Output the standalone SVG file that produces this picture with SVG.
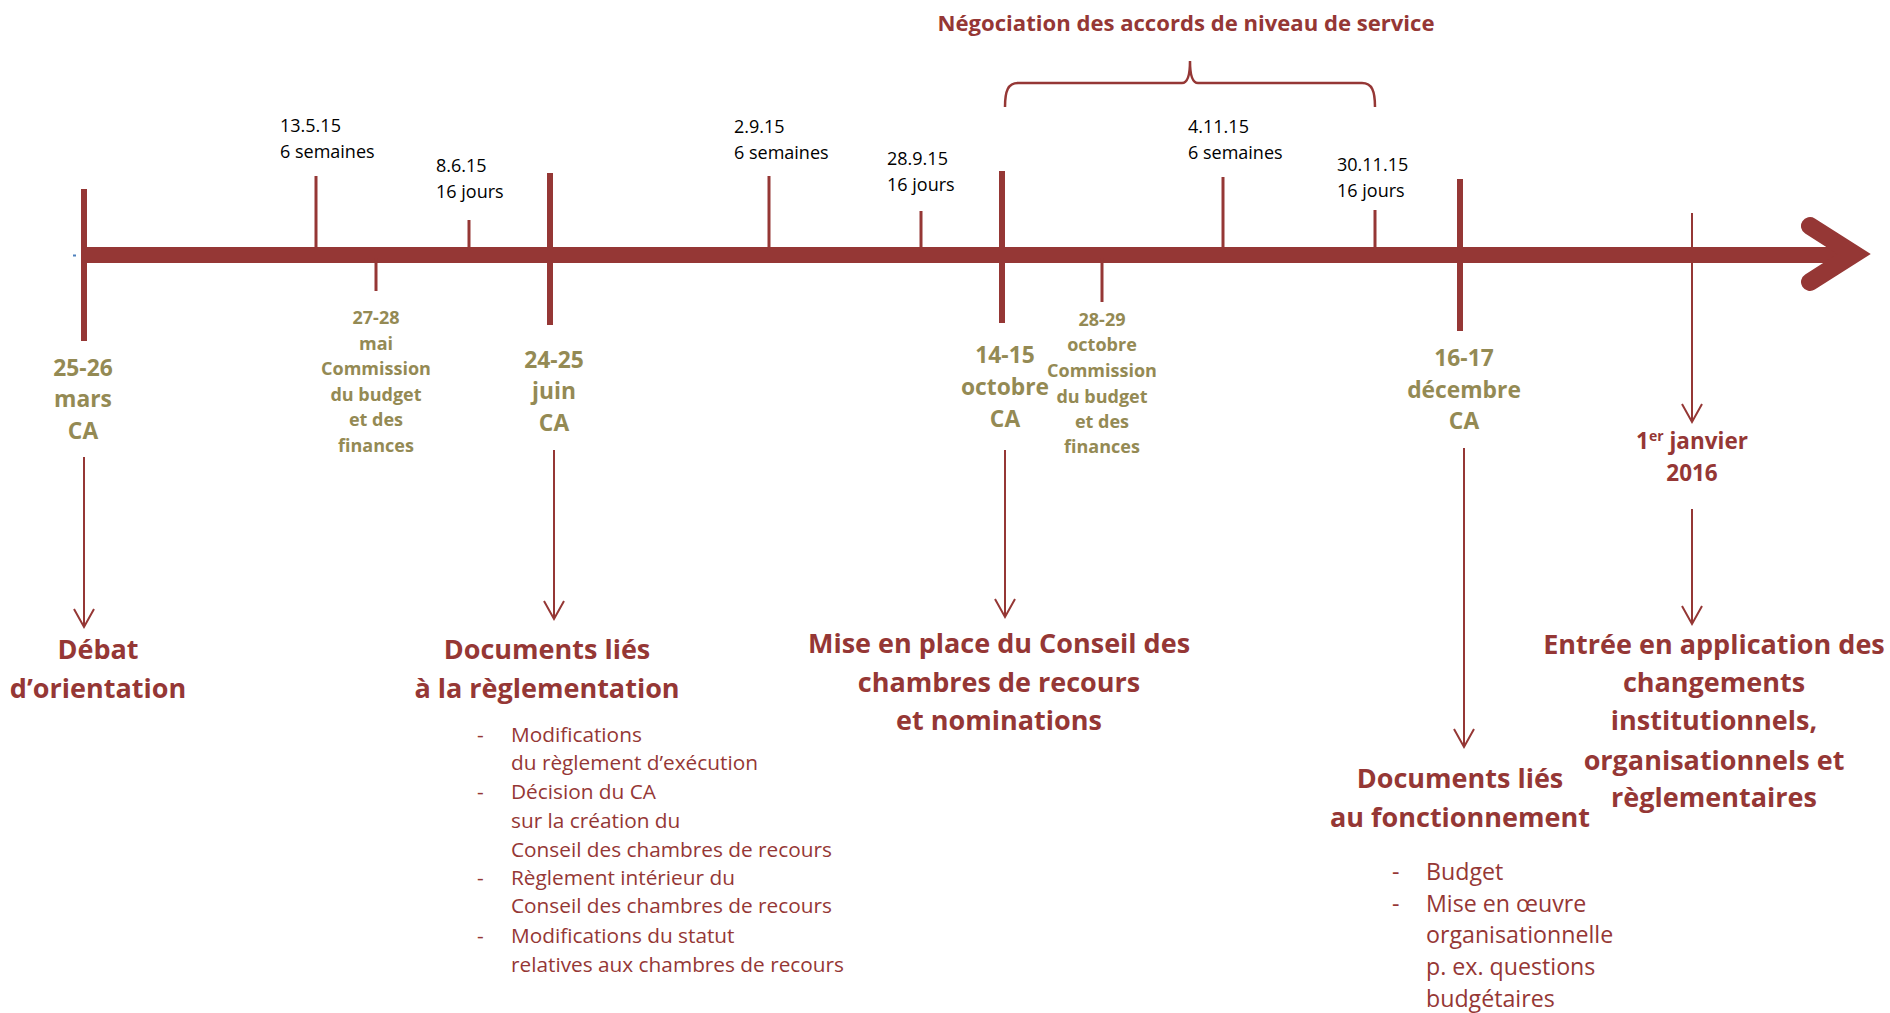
<svg xmlns="http://www.w3.org/2000/svg" width="1890" height="1013" viewBox="0 0 1890 1013">
<style>
  .axis{stroke:#953735;fill:none}
  .tk{stroke:#953735;stroke-width:6}
  .tn{stroke:#953735;stroke-width:3}
  .con{stroke:#953735;stroke-width:2;fill:none}
  .lbl{font-family:"Open Sans","Liberation Sans",sans-serif;font-size:18px;fill:#000}
  .dt{font-family:"Open Sans","Liberation Sans",sans-serif;font-weight:bold;font-size:22.8px;fill:#948a54;text-anchor:middle}
  .cm{font-family:"Open Sans","Liberation Sans",sans-serif;font-weight:bold;font-size:18px;fill:#948a54;text-anchor:middle}
  .hd{font-family:"Open Sans","Liberation Sans",sans-serif;font-weight:bold;font-size:27px;fill:#953735;text-anchor:middle}
  .jan{font-family:"Open Sans","Liberation Sans",sans-serif;font-weight:bold;font-size:22.5px;fill:#953735;text-anchor:middle}
  .ttl{font-family:"Open Sans","Liberation Sans",sans-serif;font-weight:bold;font-size:22.1px;fill:#953735;text-anchor:middle}
  .bl{font-family:"Open Sans","Liberation Sans",sans-serif;font-size:20.8px;fill:#953735}
  .br{font-family:"Open Sans","Liberation Sans",sans-serif;font-size:23.2px;fill:#953735}
</style>
<defs>
  <marker id="v" viewBox="-20 -12 24 24" refX="0" refY="0" markerWidth="24" markerHeight="24" markerUnits="userSpaceOnUse" orient="auto" overflow="visible">
    <path d="M-18,-10 L0,0 L-18,10" fill="none" stroke="#953735" stroke-width="2"/>
  </marker>
</defs>
<rect width="1890" height="1013" fill="#fff"/>

<g id="timeline">
  <line class="axis" x1="84" y1="255" x2="1856" y2="255" stroke-width="16"/>
  <polyline class="axis" points="1810,226 1854,254 1810,282" stroke-width="18" stroke-linecap="round" stroke-linejoin="miter"/>
  <line x1="73" y1="255.5" x2="84" y2="255.5" stroke="#4f81bd" stroke-width="2" stroke-dasharray="3,5"/>
</g>

<g id="ticks">
  <line class="tk" x1="84" y1="189" x2="84" y2="341"/>
  <line class="tn" x1="316" y1="176" x2="316" y2="250"/>
  <line class="tn" x1="376" y1="258" x2="376" y2="291"/>
  <line class="tn" x1="469" y1="220" x2="469" y2="250"/>
  <line class="tk" x1="550" y1="173" x2="550" y2="325"/>
  <line class="tn" x1="769" y1="176" x2="769" y2="250"/>
  <line class="tn" x1="921" y1="211" x2="921" y2="250"/>
  <line class="tk" x1="1002" y1="171" x2="1002" y2="323"/>
  <line class="tn" x1="1102" y1="258" x2="1102" y2="302"/>
  <line class="tn" x1="1223" y1="177" x2="1223" y2="250"/>
  <line class="tn" x1="1375" y1="210" x2="1375" y2="250"/>
  <line class="tk" x1="1460" y1="179" x2="1460" y2="331"/>
</g>

<g id="negociation">
  <path d="M1005,107 C1005,91 1008,83 1018,83 L1182,83 C1188,83 1190,75 1190,61 C1190,75 1192,83 1198,83 L1362,83 C1372,83 1375,91 1375,107" fill="none" stroke="#953735" stroke-width="2.5"/>
  <text class="ttl" x="1186" y="31">Négociation des accords de niveau de service</text>
</g>

<g id="top-labels">
  <text class="lbl" x="280" y="132">13.5.15<tspan x="280" y="158">6 semaines</tspan></text>
  <text class="lbl" x="436" y="172">8.6.15<tspan x="436" y="198">16 jours</tspan></text>
  <text class="lbl" x="734" y="133">2.9.15<tspan x="734" y="159">6 semaines</tspan></text>
  <text class="lbl" x="887" y="165">28.9.15<tspan x="887" y="191">16 jours</tspan></text>
  <text class="lbl" x="1188" y="133">4.11.15<tspan x="1188" y="159">6 semaines</tspan></text>
  <text class="lbl" x="1337" y="171">30.11.15<tspan x="1337" y="197">16 jours</tspan></text>
</g>

<g id="date-mars">
  <text class="dt" x="83" y="376">25-26<tspan x="83" y="407">mars</tspan><tspan x="83" y="439">CA</tspan></text>
</g>
<g id="date-mai">
  <text class="cm" x="376" y="324">27-28<tspan x="376" y="350">mai</tspan><tspan x="376" y="375">Commission</tspan><tspan x="376" y="401">du budget</tspan><tspan x="376" y="426">et des</tspan><tspan x="376" y="452">finances</tspan></text>
</g>
<g id="date-juin">
  <text class="dt" x="554" y="368">24-25<tspan x="554" y="399">juin</tspan><tspan x="554" y="431">CA</tspan></text>
</g>
<g id="date-octobre">
  <text class="dt" x="1005" y="363">14-15<tspan x="1005" y="395">octobre</tspan><tspan x="1005" y="427">CA</tspan></text>
</g>
<g id="date-octobre-commission">
  <text class="cm" x="1102" y="326">28-29<tspan x="1102" y="351">octobre</tspan><tspan x="1102" y="377">Commission</tspan><tspan x="1102" y="403">du budget</tspan><tspan x="1102" y="428">et des</tspan><tspan x="1102" y="453">finances</tspan></text>
</g>
<g id="date-decembre">
  <text class="dt" x="1464" y="366">16-17<tspan x="1464" y="398">décembre</tspan><tspan x="1464" y="429">CA</tspan></text>
</g>
<g id="date-janvier">
  <text class="jan" x="1692" y="449">1<tspan dy="-8" font-size="14">er</tspan><tspan dy="8"> janvier</tspan><tspan x="1692" y="481">2016</tspan></text>
</g>

<g id="connectors">
  <line class="con" x1="84" y1="457" x2="84" y2="627" marker-end="url(#v)"/>
  <line class="con" x1="554" y1="450" x2="554" y2="619" marker-end="url(#v)"/>
  <line class="con" x1="1005" y1="450" x2="1005" y2="617" marker-end="url(#v)"/>
  <line class="con" x1="1464" y1="448" x2="1464" y2="747" marker-end="url(#v)"/>
  <line class="con" x1="1692" y1="213" x2="1692" y2="422" marker-end="url(#v)"/>
  <line class="con" x1="1692" y1="509" x2="1692" y2="624" marker-end="url(#v)"/>
</g>

<g id="debat">
  <text class="hd" x="98" y="659">Débat<tspan x="98" y="698">d’orientation</tspan></text>
</g>
<g id="documents-reglementation">
  <text class="hd" x="547" y="659">Documents liés<tspan x="547" y="698">à la règlementation</tspan></text>
  <text class="bl" x="477" y="742">-</text>
  <text class="bl" x="511" y="742">Modifications<tspan x="511" y="770">du règlement d’exécution</tspan></text>
  <text class="bl" x="477" y="799">-</text>
  <text class="bl" x="511" y="799">Décision du CA<tspan x="511" y="828">sur la création du</tspan><tspan x="511" y="857">Conseil des chambres de recours</tspan></text>
  <text class="bl" x="477" y="885">-</text>
  <text class="bl" x="511" y="885">Règlement intérieur du<tspan x="511" y="913">Conseil des chambres de recours</tspan></text>
  <text class="bl" x="477" y="943">-</text>
  <text class="bl" x="511" y="943">Modifications du statut<tspan x="511" y="972">relatives aux chambres de recours</tspan></text>
</g>
<g id="mise-en-place">
  <text class="hd" x="999" y="653">Mise en place du Conseil des<tspan x="999" y="692">chambres de recours</tspan><tspan x="999" y="730">et nominations</tspan></text>
</g>
<g id="documents-fonctionnement">
  <text class="hd" x="1460" y="788">Documents liés<tspan x="1460" y="827">au fonctionnement</tspan></text>
  <text class="br" x="1392" y="880">-</text>
  <text class="br" x="1426" y="880">Budget</text>
  <text class="br" x="1392" y="912">-</text>
  <text class="br" x="1426" y="912">Mise en œuvre<tspan x="1426" y="943">organisationnelle</tspan><tspan x="1426" y="975">p. ex. questions</tspan><tspan x="1426" y="1007">budgétaires</tspan></text>
</g>
<g id="entree-application">
  <text class="hd" x="1714" y="654">Entrée en application des<tspan x="1714" y="692">changements</tspan><tspan x="1714" y="730">institutionnels,</tspan><tspan x="1714" y="770">organisationnels et</tspan><tspan x="1714" y="807">règlementaires</tspan></text>
</g>
</svg>
